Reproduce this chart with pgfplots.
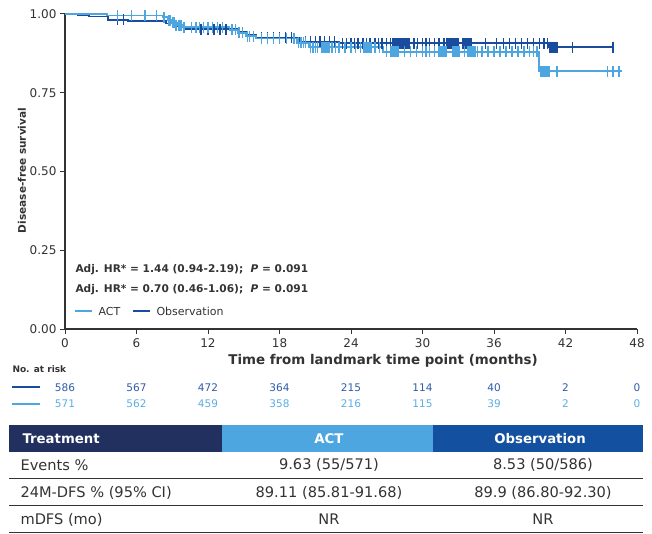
\documentclass[border=0pt]{standalone}
\usepackage{fontspec}
\setmainfont{DejaVu Sans}
\usepackage{pgfplots}
\pgfplotsset{compat=1.18}
\definecolor{obs}{HTML}{1A4C9E}
\definecolor{act}{HTML}{4DA6E0}
\definecolor{navy}{HTML}{22305F}
\definecolor{hdrobs}{HTML}{1450A0}
\definecolor{txt}{HTML}{333333}
\definecolor{obsn}{HTML}{2E5BAA}
\definecolor{actn}{HTML}{5AAEE3}
\begin{document}
\begin{tikzpicture}[x=1pt,y=1pt]
\path[use as bounding box] (0,0) rectangle (652,-534);
\begin{axis}[at={(65pt,-329pt)}, anchor=south west, scale only axis,
  width=572pt, height=315pt,
  xmin=0, xmax=48, ymin=0, ymax=1,
  axis x line*=bottom, axis y line*=left, axis line style={-, line width=1.1pt, color=txt},
  tick align=outside, major tick length=5pt, tick style={line width=1pt, color=txt},
  xtick={0,6,...,48}, ytick={0,0.25,0.5,0.75,1},
  yticklabel style={/pgf/number format/.cd, fixed, fixed zerofill, precision=2},
  /pgf/number format/assume math mode=true,
  ticklabel style={font=\fontsize{12}{13}\selectfont\color{txt}},
  xticklabel style={yshift=-1.5pt},
  clip=false]
% Observation
\addplot[const plot, obs, line width=1.8pt] coordinates {
(0,1.000)(1.1,0.996)(2.0,0.992)(3.6,0.982)(5.3,0.977)(8.5,0.970)(9.3,0.962)(10.0,0.952)
(14.6,0.944)(15.3,0.933)(16.0,0.924)(19.7,0.912)(23.0,0.907)(40.6,0.895)(46.1,0.895)};
\addplot[only marks, mark=|, mark size=5.5pt, obs, mark options={line width=1.4pt}] coordinates {
(4.4,0.982)(4.9,0.982)(11.4,0.952)(12.0,0.952)(12.5,0.952)(13.0,0.952)(13.5,0.952)(14.0,0.952)
(16.5,0.924)(17,0.924)(17.5,0.924)(18,0.924)(18.5,0.924)(19,0.924)
(20.2,0.912)(20.6,0.912)(21,0.912)(21.4,0.912)(21.8,0.912)(22.2,0.912)(22.6,0.912)
(23.3,0.907)(23.6,0.907)(24,0.907)(24.3,0.907)(24.6,0.907)(25,0.907)(25.3,0.907)(25.6,0.907)(26,0.907)(26.3,0.907)(26.6,0.907)(27,0.907)(27.3,0.907)(27.8,0.907)(28.3,0.907)(28.8,0.907)(29.3,0.907)(29.6,0.907)(30,0.907)(30.3,0.907)(30.6,0.907)(31,0.907)(31.4,0.907)(31.8,0.907)(32,0.907)(32.3,0.907)(32.6,0.907)(33,0.907)(33.4,0.907)(33.8,0.907)(35.3,0.907)(36.2,0.907)(36.8,0.907)(37.3,0.907)(37.8,0.907)(38.3,0.907)(38.8,0.907)(39.3,0.907)(39.8,0.907)(40.2,0.907)(40.5,0.907)
(40.7,0.895)(41,0.895)(41.3,0.895)(42.6,0.895)(46.0,0.895)
(27.5,0.907)(27.6,0.907)(27.7,0.907)(27.9,0.907)(28.0,0.907)(28.1,0.907)(28.2,0.907)(28.4,0.907)(28.5,0.907)(28.6,0.907)(28.7,0.907)(28.9,0.907)
(32.1,0.907)(32.2,0.907)(32.4,0.907)(32.5,0.907)(32.7,0.907)(32.8,0.907)(32.9,0.907)
(33.5,0.907)(33.6,0.907)(33.7,0.907)(33.9,0.907)(34.0,0.907)(34.1,0.907)
(40.7,0.895)(40.8,0.895)(40.9,0.895)(41.1,0.895)(41.2,0.895)};
% ACT
\addplot[const plot, act, line width=1.8pt] coordinates {
(0,1.000)(3.5,0.995)(8.2,0.990)(8.6,0.980)(9.0,0.972)(9.4,0.965)(9.9,0.958)(13.8,0.950)
(14.5,0.940)(15.2,0.930)(16.0,0.922)(19.5,0.908)(20.5,0.895)(26.7,0.880)(39.8,0.818)(46.7,0.818)};
\addplot[only marks, mark=|, mark size=5.5pt, act, mark options={line width=1.4pt}] coordinates {
(4.4,0.995)(5.6,0.995)(6.7,0.995)(7.7,0.995)
(8.3,0.990)(8.7,0.980)(8.8,0.980)(9.1,0.972)(9.2,0.972)(9.5,0.965)(9.6,0.965)(9.8,0.965)(10.0,0.958)
(10.6,0.958)(11.0,0.958)(11.3,0.958)(11.6,0.958)(12.0,0.958)(12.4,0.958)(12.8,0.958)(13.2,0.958)
(14.0,0.950)(14.3,0.950)(14.6,0.940)(14.9,0.940)(15.3,0.930)(15.5,0.930)(15.8,0.930)
(16.5,0.922)(17.0,0.922)(17.5,0.922)(18.0,0.922)(18.6,0.922)(19.2,0.922)
(19.6,0.908)(19.8,0.908)(20.0,0.908)(20.2,0.908)
(20.6,0.895)(20.8,0.895)(21.0,0.895)(21.2,0.895)(21.5,0.895)(21.8,0.895)(22.1,0.895)(22.4,0.895)(22.7,0.895)(23.0,0.895)(23.5,0.895)(24.0,0.895)(24.4,0.895)(24.8,0.895)(25.2,0.895)(25.6,0.895)(26.0,0.895)(26.4,0.895)
(27,0.880)(27.3,0.880)(27.6,0.880)(28,0.880)(28.5,0.880)(29,0.880)(29.5,0.880)(30,0.880)(30.3,0.880)(30.6,0.880)(31,0.880)(31.5,0.880)(32,0.880)(32.5,0.880)(33,0.880)(33.5,0.880)(34,0.880)(34.3,0.880)(34.6,0.880)(35,0.880)(35.5,0.880)(36,0.880)(36.5,0.880)(37,0.880)(37.5,0.880)(38,0.880)(38.5,0.880)(39,0.880)(39.3,0.880)(39.6,0.880)
(39.9,0.818)(40.0,0.818)(40.2,0.818)(40.4,0.818)(41.3,0.818)(45.5,0.818)(46.0,0.818)(46.5,0.818)
(9.0,0.972)(9.3,0.965)(9.7,0.965)
(21.6,0.895)(21.7,0.895)(21.9,0.895)(22.0,0.895)(22.2,0.895)
(25.1,0.895)(25.3,0.895)(25.4,0.895)(25.5,0.895)(25.7,0.895)
(27.4,0.880)(27.5,0.880)(27.7,0.880)(27.8,0.880)(27.9,0.880)
(31.4,0.880)(31.6,0.880)(31.7,0.880)(31.8,0.880)(31.9,0.880)
(32.6,0.880)(32.7,0.880)(32.8,0.880)(32.9,0.880)(33.1,0.880)
(33.8,0.880)(33.9,0.880)(34.1,0.880)(34.2,0.880)(34.4,0.880)
(40.1,0.818)(40.3,0.818)(40.5,0.818)(40.6,0.818)};
\end{axis}
% y label
\node[rotate=90, font=\fontsize{10.5}{12}\selectfont\bfseries, text=txt] at (22,-170.5) {Disease-free survival};
% x label
\node[font=\fontsize{13.4}{15}\selectfont\bfseries, text=txt] at (383,-361) {Time from landmark time point (months)};
% HR annotations
\node[anchor=west, font=\fontsize{10.6}{12}\selectfont\bfseries, text=txt] at (72,-270) {Adj. HR* = 1.44 (0.94-2.19);\ \ \textit{P} = 0.091};
\node[anchor=west, font=\fontsize{10.6}{12}\selectfont\bfseries, text=txt] at (72,-290) {Adj. HR* = 0.70 (0.46-1.06);\ \ \textit{P} = 0.091};
% legend
\draw[act, line width=1.8pt] (75,-311) -- (92,-311);
\node[anchor=west, font=\fontsize{11}{13}\selectfont, text=txt] at (95,-311) {ACT};
\draw[obs, line width=1.8pt] (133,-311) -- (150,-311);
\node[anchor=west, font=\fontsize{11}{13}\selectfont, text=txt] at (153,-311) {Observation};
% at risk
\node[anchor=west, font=\fontsize{9}{11}\selectfont\bfseries, text=txt] at (9,-369) {No. at risk};
\draw[obs, line width=1.8pt] (12,-387) -- (40,-387);
\draw[act, line width=1.8pt] (12,-404) -- (40,-404);
\foreach \n [count=\i from 0] in {586,567,472,364,215,114,40,2,0} {
  \node[font=\fontsize{10.5}{12}\selectfont, text=obsn] at ({65+71.5*\i},-387.5) {\n};
}
\foreach \n [count=\i from 0] in {571,562,459,358,216,115,39,2,0} {
  \node[font=\fontsize{10.5}{12}\selectfont, text=actn] at ({65+71.5*\i},-403.5) {\n};
}
% table
\fill[navy] (9,-425) rectangle (222,-452);
\fill[act] (222,-425) rectangle (433,-452);
\fill[hdrobs] (433,-425) rectangle (643,-452);
\node[anchor=west, font=\fontsize{13.3}{15}\selectfont\bfseries, text=white] at (19,-438.5) {Treatment};
\node[font=\fontsize{13.3}{15}\selectfont\bfseries, text=white] at (329,-438.5) {ACT};
\node[font=\fontsize{13.3}{15}\selectfont\bfseries, text=white] at (540,-438.5) {Observation};
\draw[txt, line width=1pt] (9,-478) -- (643,-478);
\draw[txt, line width=1pt] (9,-505) -- (643,-505);
\draw[txt, line width=1pt] (9,-532) -- (643,-532);
\begin{scope}[every node/.style={font=\fontsize{14.6}{16}\selectfont, text=txt}]
\node[anchor=west] at (17,-465) {Events \%};
\node at (329,-465) {9.63 (55/571)};
\node at (543,-465) {8.53 (50/586)};
\node[anchor=west] at (17,-492.5) {24M-DFS \% (95\% CI)};
\node at (329,-492.5) {89.11 (85.81-91.68)};
\node at (543,-492.5) {89.9 (86.80-92.30)};
\node[anchor=west] at (17,-519.5) {mDFS (mo)};
\node at (329,-519.5) {NR};
\node at (543,-519.5) {NR};
\end{scope}
\end{tikzpicture}
\end{document}
